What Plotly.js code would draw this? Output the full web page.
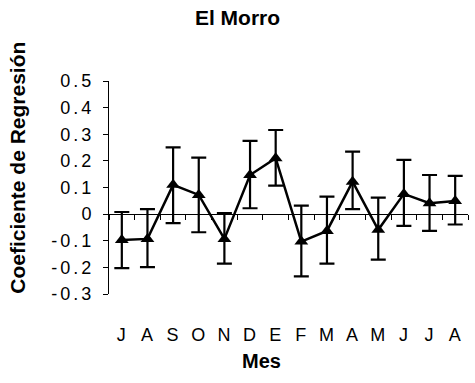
<!DOCTYPE html>
<html>
<head>
<meta charset="utf-8">
<script src="https://cdn.plot.ly/plotly-3.0.1.min.js"></script>
<style>html,body{margin:0;padding:0;background:#fff}#chart{width:475px;height:383px}
.ytick text{letter-spacing:3px}.xtick text{letter-spacing:1px}</style>
</head>
<body>
<div id="chart"></div>
<script>
const months = ["J","A","S","O","N","D","E","F","M","A","M","J","J","A"];
const coef   = [-0.097,-0.093,0.110,0.072,-0.093,0.147,0.210,-0.103,-0.063,0.122,-0.059,0.076,0.041,0.049];
const upper  = [0.008,0.019,0.251,0.212,0.004,0.275,0.316,0.032,0.066,0.235,0.062,0.204,0.147,0.144];
const lower  = [-0.203,-0.199,-0.034,-0.068,-0.186,0.022,0.107,-0.234,-0.186,0.019,-0.171,-0.044,-0.063,-0.039];
const yTickVals = [0.5,0.4,0.3,0.2,0.1,0,-0.1,-0.2,-0.3];
const yTickText = ["0.5","0.4","0.3","0.2","0.1","0","-0.1","-0.2","-0.3"];

const xIdx = months.map((m,i)=>i);
const errPlus = upper.map((u,i)=>u-coef[i]);
const errMinus = lower.map((l,i)=>coef[i]-l);

const trace = {
  x: xIdx, y: coef, type: 'scatter', mode: 'lines+markers',
  line: {color: '#000', width: 2.5},
  marker: {symbol: 'triangle-up', size: 12, color: '#000'},
  error_y: {type: 'data', symmetric: false, array: errPlus, arrayminus: errMinus,
            color: '#000', thickness: 2.2, width: 7.5},
  showlegend: false, cliponaxis: false
};

const layout = {
  width: 475, height: 383,
  margin: {l: 109, r: 7, t: 81, b: 89},
  paper_bgcolor: '#fff', plot_bgcolor: '#fff',
  font: {family: 'Liberation Sans, Arial, sans-serif', color: '#000', size: 18},
  title: {text: '<b>El Morro</b>', x: 0.5, xref: 'container', xanchor: 'center', y: 0.953, yanchor: 'middle', font: {size: 21}},
  xaxis: {
    anchor: 'free', position: 0.375,
    range: [-0.5, 13.5], tickmode: 'array', tickvals: xIdx, ticktext: months,
    showline: true, linecolor: '#000', linewidth: 1,
    ticks: '', ticklabelstandoff: 104, tickfont: {size: 18},
    minor: {tickmode: 'linear', tick0: -0.5, dtick: 1, ticks: 'outside', ticklen: 5, tickcolor: '#000', tickwidth: 1, showgrid: false},
    showgrid: false, zeroline: false
  },
  yaxis: {
    range: [-0.3, 0.5], tickmode: 'array', tickvals: yTickVals, ticktext: yTickText,
    showline: true, linecolor: '#000', linewidth: 1,
    ticks: 'outside', ticklen: 5, tickcolor: '#000', ticklabelstandoff: 5,
    showgrid: false, zeroline: false, tickfont: {size: 18}
  },
  annotations: [
    {text: '<b>Mes</b>', xref: 'paper', yref: 'paper', x: 0.425, y: -0.315,
     xanchor: 'center', yanchor: 'middle', showarrow: false, font: {size: 20}},
    {text: '<b>Coeficiente de Regresión</b>', xref: 'paper', yref: 'paper', x: -0.254, y: 0.592,
     xanchor: 'center', yanchor: 'middle', textangle: -90, showarrow: false, font: {size: 21}}
  ]
};

Plotly.newPlot('chart', [trace], layout, {staticPlot: true, displayModeBar: false});
</script>
</body>
</html>
